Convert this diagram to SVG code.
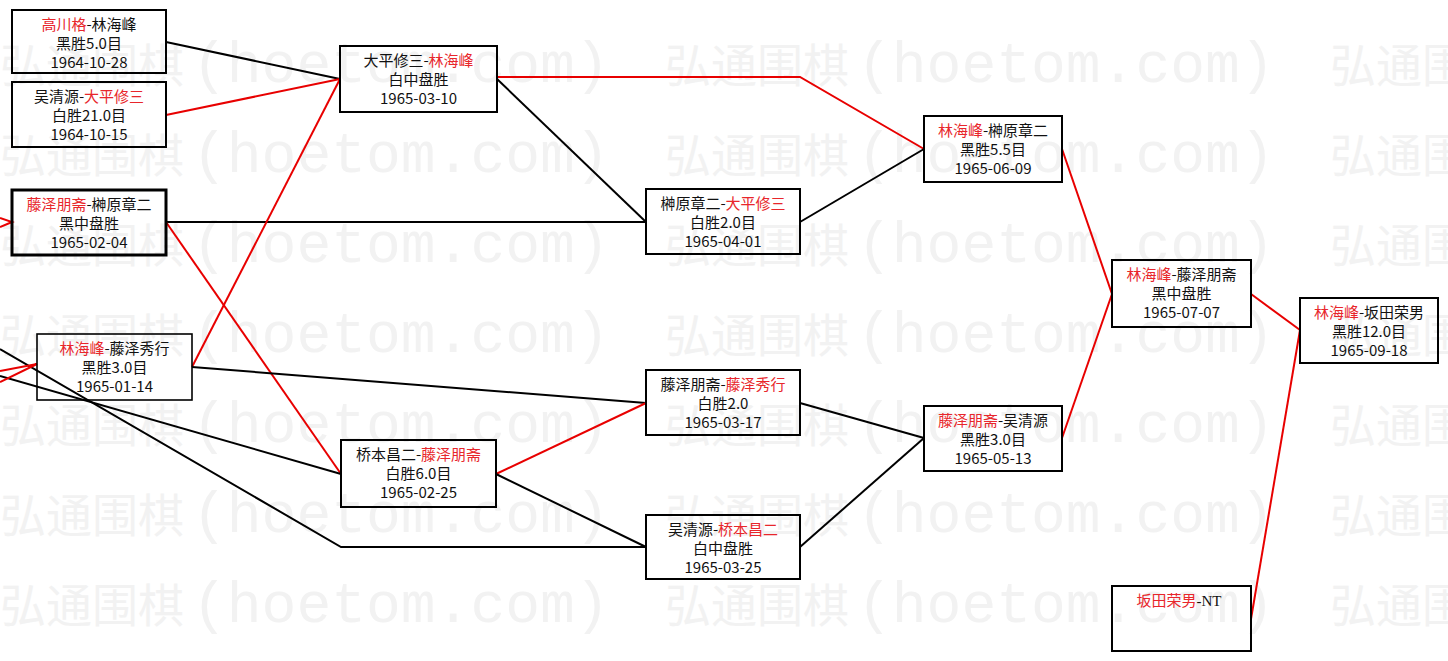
<svg xmlns="http://www.w3.org/2000/svg" width="1448" height="661" viewBox="0 0 1448 661">
<style>
.wm{font-family:"Noto Sans CJK SC",sans-serif;font-size:46px;fill:#f2f2f2}
.wl{font-family:"Liberation Mono",monospace;font-size:58px}
.box{fill:none;stroke:#000;stroke-width:2}
.t{font-family:"Noto Sans CJK SC","Noto Sans",sans-serif;font-size:15px;fill:#111;text-anchor:middle}
.r{fill:#e8262b}
.lk{fill:none;stroke:#000;stroke-width:2}
.lr{fill:none;stroke:#e80000;stroke-width:2}
</style>
<defs>
<g id="wmrow">
<text class="wm"><tspan x="0">弘通围棋</tspan><tspan class="wl" x="192">(hoetom.com)</tspan><tspan x="665">弘通围棋</tspan><tspan class="wl" x="857">(hoetom.com)</tspan><tspan x="1330">弘通围棋</tspan></text>
</g>
</defs>
<rect width="1448" height="661" fill="#fff"/>
<g id="watermark">
<use href="#wmrow" y="82"/>
<use href="#wmrow" y="172"/>
<use href="#wmrow" y="262"/>
<use href="#wmrow" y="352"/>
<use href="#wmrow" y="442"/>
<use href="#wmrow" y="532"/>
<use href="#wmrow" y="622"/>
</g>
<g id="connectors">
<polyline class="lk" points="166,42 340,79"/>
<polyline class="lr" points="166,115 340,79"/>
<polyline class="lk" points="166,222 646,222"/>
<polyline class="lr" points="166,222 341,474"/>
<polyline class="lr" points="192,367 340,79"/>
<polyline class="lk" points="192,367 646,403"/>
<polyline class="lk" points="0,349 341,547 646,547"/>
<polyline class="lk" points="0,376 341,474"/>
<polyline class="lr" points="0,371 37,364 0,382"/>
<polyline class="lr" points="0,218 12,222 0,227"/>
<polyline class="lr" points="497,77 800,77 924,149"/>
<polyline class="lk" points="497,79 646,222"/>
<polyline class="lk" points="800,222 924,149"/>
<polyline class="lr" points="496,474 646,403"/>
<polyline class="lk" points="496,474 646,547"/>
<polyline class="lk" points="800,403 924,438"/>
<polyline class="lk" points="800,547 924,438"/>
<polyline class="lr" points="1062,149 1112,294"/>
<polyline class="lr" points="1062,438 1112,294"/>
<polyline class="lr" points="1251,294 1300,330"/>
<polyline class="lr" points="1251,619 1300,330"/>
</g>
<g id="nA"><rect class="box" x="12" y="10" width="154" height="63"/>
<text class="t" x="89" y="30"><tspan class="r">高川格</tspan>-林海峰</text>
<text class="t" x="89" y="49">黑胜5.0目</text><text class="t" x="89" y="68">1964-10-28</text></g>
<g id="nB"><rect class="box" x="12" y="82" width="154" height="65"/>
<text class="t" x="89" y="102">吴清源-<tspan class="r">大平修三</tspan></text>
<text class="t" x="89" y="121">白胜21.0目</text><text class="t" x="89" y="140">1964-10-15</text></g>
<g id="nC"><rect class="box" style="stroke-width:3" x="12" y="190" width="154" height="65"/>
<text class="t" x="89" y="210"><tspan class="r">藤泽朋斋</tspan>-榊原章二</text>
<text class="t" x="89" y="229">黑中盘胜</text><text class="t" x="89" y="248">1965-02-04</text></g>
<g id="nD"><rect class="box" style="stroke-width:1.6" x="37" y="334" width="155" height="66"/>
<text class="t" x="114.5" y="354"><tspan class="r">林海峰</tspan>-藤泽秀行</text>
<text class="t" x="114.5" y="373">黑胜3.0目</text><text class="t" x="114.5" y="392">1965-01-14</text></g>
<g id="nE"><rect class="box" x="340" y="46" width="157" height="66"/>
<text class="t" x="418.5" y="66">大平修三-<tspan class="r">林海峰</tspan></text>
<text class="t" x="418.5" y="85">白中盘胜</text><text class="t" x="418.5" y="104">1965-03-10</text></g>
<g id="nF"><rect class="box" x="341" y="440" width="155" height="67"/>
<text class="t" x="418.5" y="460">桥本昌二-<tspan class="r">藤泽朋斋</tspan></text>
<text class="t" x="418.5" y="479">白胜6.0目</text><text class="t" x="418.5" y="498">1965-02-25</text></g>
<g id="nG"><rect class="box" x="646" y="189" width="154" height="65"/>
<text class="t" x="723" y="209">榊原章二-<tspan class="r">大平修三</tspan></text>
<text class="t" x="723" y="228">白胜2.0目</text><text class="t" x="723" y="247">1965-04-01</text></g>
<g id="nH"><rect class="box" x="646" y="370" width="154" height="65"/>
<text class="t" x="723" y="390">藤泽朋斋-<tspan class="r">藤泽秀行</tspan></text>
<text class="t" x="723" y="409">白胜2.0</text><text class="t" x="723" y="428">1965-03-17</text></g>
<g id="nI"><rect class="box" x="646" y="515" width="154" height="64"/>
<text class="t" x="723" y="535">吴清源-<tspan class="r">桥本昌二</tspan></text>
<text class="t" x="723" y="554">白中盘胜</text><text class="t" x="723" y="573">1965-03-25</text></g>
<g id="nJ"><rect class="box" x="924" y="116" width="138" height="66"/>
<text class="t" x="993" y="136"><tspan class="r">林海峰</tspan>-榊原章二</text>
<text class="t" x="993" y="155">黑胜5.5目</text><text class="t" x="993" y="174">1965-06-09</text></g>
<g id="nK"><rect class="box" x="924" y="406" width="138" height="65"/>
<text class="t" x="993" y="426"><tspan class="r">藤泽朋斋</tspan>-吴清源</text>
<text class="t" x="993" y="445">黑胜3.0目</text><text class="t" x="993" y="464">1965-05-13</text></g>
<g id="nL"><rect class="box" x="1112" y="260" width="139" height="67"/>
<text class="t" x="1181.5" y="280"><tspan class="r">林海峰</tspan>-藤泽朋斋</text>
<text class="t" x="1181.5" y="299">黑中盘胜</text><text class="t" x="1181.5" y="318">1965-07-07</text></g>
<g id="nM"><rect class="box" x="1300" y="298" width="138" height="65"/>
<text class="t" x="1369" y="318"><tspan class="r">林海峰</tspan>-坂田荣男</text>
<text class="t" x="1369" y="337">黑胜12.0目</text><text class="t" x="1369" y="356">1965-09-18</text></g>
<g id="nN"><rect class="box" x="1112" y="586" width="139" height="65"/>
<text class="t" x="1179" y="606"><tspan class="r">坂田荣男</tspan><tspan style="font-family:'Liberation Serif',serif">-NT</tspan></text></g>
</svg>
